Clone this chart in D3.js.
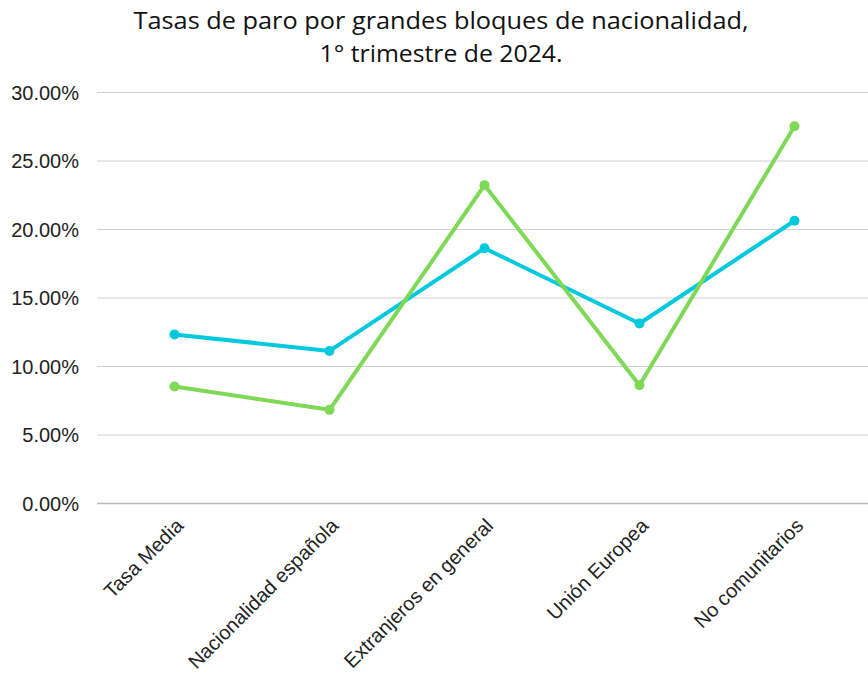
<html>
<head>
<meta charset="utf-8">
<script src="https://d3js.org/d3.v7.min.js"></script>
<style>
  body { margin: 0; background: #fff; }
  svg { display: block; }
</style>
</head>
<body>
<svg width="868" height="675"></svg>
<script>
var categories = ["Tasa Media", "Nacionalidad española", "Extranjeros en general", "Unión Europea", "No comunitarios"];
var serieAzul = [12.3, 11.1, 18.6, 13.1, 20.6];
var serieVerde = [8.5, 6.8, 23.2, 8.6, 27.5];
var yTicks = [0, 5, 10, 15, 20, 25, 30];
var titulo = ["Tasas de paro por grandes bloques de nacionalidad,", "1° trimestre de 2024."];
var tituloAncho = [615, 243];

var svg = d3.select("svg");

var x = d3.scaleBand().domain(categories).range([97, 872]);
var y = d3.scaleLinear().domain([0, 30]).range([503, 92]);

// title
svg.append("g").selectAll("text")
  .data(titulo)
  .enter().append("text")
  .attr("x", 441)
  .attr("y", function(d, i) { return 29 + i * 33; })
  .attr("text-anchor", "middle")
  .attr("textLength", function(d, i) { return tituloAncho[i]; })
  .attr("lengthAdjust", "spacingAndGlyphs")
  .style("font-family", "Open Sans")
  .style("font-weight", "500")
  .style("font-size", "23px")
  .style("fill", "#111")
  .text(function(d) { return d; });

// y axis with grid
var yAxis = svg.append("g")
  .attr("transform", "translate(97,0)")
  .call(d3.axisLeft(y).tickValues(yTicks).tickSize(-771).tickFormat(function(d) { return d.toFixed(2) + "%"; }));
yAxis.select(".domain").remove();
yAxis.selectAll(".tick line").attr("stroke", "#d0d0d0").attr("stroke-width", 1);
yAxis.select(".tick line").attr("stroke", "#bbb").attr("stroke-width", 1.5);
yAxis.selectAll(".tick text")
  .attr("x", -18)
  .attr("dy", "0.35em")
  .style("font-family", "Liberation Sans")
  .style("font-size", "20px")
  .style("fill", "#222");

// x axis labels
var xAxis = svg.append("g")
  .attr("transform", "translate(0,503)")
  .call(d3.axisBottom(x).tickSize(0));
xAxis.select(".domain").remove();
xAxis.selectAll(".tick text")
  .attr("text-anchor", "end")
  .attr("transform", "translate(10,24) rotate(-45)")
  .attr("y", 0)
  .attr("dy", "0")
  .style("font-family", "Liberation Sans")
  .style("font-size", "20px")
  .style("fill", "#222");

var line = d3.line()
  .x(function(d, i) { return x(categories[i]) + x.bandwidth() / 2; })
  .y(function(d) { return y(d); });

function drawSeries(vals, color) {
  var g = svg.append("g");
  g.append("path")
    .datum(vals)
    .attr("d", line)
    .attr("fill", "none")
    .attr("stroke", color)
    .attr("stroke-width", 4)
    .attr("stroke-linejoin", "round");
  g.selectAll("circle")
    .data(vals)
    .enter().append("circle")
    .attr("cx", function(d, i) { return x(categories[i]) + x.bandwidth() / 2; })
    .attr("cy", function(d) { return y(d); })
    .attr("r", 5)
    .attr("fill", color);
}

drawSeries(serieAzul, "#00c9de");
drawSeries(serieVerde, "#7ed957");
</script>
</body>
</html>
